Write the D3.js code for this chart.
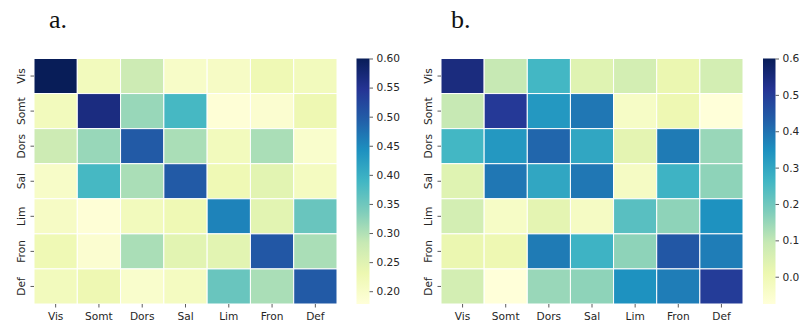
<!DOCTYPE html>
<html>
<head>
<meta charset="utf-8">
<script src="https://cdn.jsdelivr.net/npm/d3@7"></script>
<style>
  body { margin: 0; background: #fff; }
  svg text { font-family: "DejaVu Sans", sans-serif; fill: #262626; }
  .panel-label { font-family: "Liberation Serif", "DejaVu Serif", serif; fill: #111; }
</style>
</head>
<body>
<svg id="chart" width="803" height="325"></svg>
<script>
// network labels, same for rows and columns
var networks = ['Vis', 'Somt', 'Dors', 'Sal', 'Lim', 'Fron', 'Def'];

// panel a. values (row by row)
var valuesA = [
    [0.600, 0.215, 0.275, 0.200, 0.205, 0.225, 0.215],
    [0.215, 0.565, 0.318, 0.385, 0.182, 0.190, 0.228],
    [0.275, 0.318, 0.500, 0.305, 0.215, 0.305, 0.195],
    [0.200, 0.385, 0.305, 0.500, 0.226, 0.246, 0.210],
    [0.205, 0.182, 0.215, 0.226, 0.456, 0.246, 0.355],
    [0.225, 0.190, 0.305, 0.246, 0.246, 0.503, 0.305],
    [0.215, 0.228, 0.195, 0.210, 0.355, 0.305, 0.500]
];

// panel b. values (row by row)
var valuesB = [
    [0.546, 0.094, 0.260, 0.040, 0.067, 0.013, 0.067],
    [0.094, 0.505, 0.330, 0.390, -0.035, 0.006, -0.075],
    [0.260, 0.330, 0.418, 0.300, 0.030, 0.384, 0.148],
    [0.040, 0.390, 0.300, 0.390, -0.030, 0.270, 0.160],
    [0.067, -0.035, 0.030, -0.030, 0.230, 0.160, 0.345],
    [0.013, 0.006, 0.384, 0.270, 0.160, 0.445, 0.380],
    [0.067, -0.075, 0.148, 0.160, 0.345, 0.380, 0.500]
];

var ticksA = [0.20, 0.25, 0.30, 0.35, 0.40, 0.45, 0.50, 0.55, 0.60];
var ticksB = [0.0, 0.1, 0.2, 0.3, 0.4, 0.5, 0.6];

// YlGnBu stops
var ylgnbu = ['#ffffd9', '#edf8b1', '#c7e9b4', '#7fcdbb', '#41b6c4', '#1d91c0', '#225ea8', '#253494', '#081d58'];

var svg = d3.select('#chart');

var drawPanel = function (opts) {
    var g = svg.append('g');

    var x = d3.scaleBand().domain(networks).range([opts.left, opts.right]);
    var y = d3.scaleBand().domain(networks).range([opts.top, opts.bottom]);

    var t = d3.scaleLinear().domain(opts.domain).range([0, 1]).clamp(true);
    var stops = d3.scaleLinear()
        .domain(ylgnbu.map(function (c, i) { return i / (ylgnbu.length - 1); }))
        .range(ylgnbu)
        .interpolate(d3.interpolateRgb);
    var color = function (v) { return stops(t(v)); };

    var cells = [];
    opts.values.forEach(function (row, i) {
        row.forEach(function (v, j) {
            cells.push({ row: networks[i], col: networks[j], value: v });
        });
    });

    g.selectAll('rect.cell')
        .data(cells)
        .enter()
        .append('rect')
        .attr('class', 'cell')
        .attr('x', function (d) { return x(d.col); })
        .attr('y', function (d) { return y(d.row); })
        .attr('width', x.bandwidth())
        .attr('height', y.bandwidth())
        .attr('fill', function (d) { return color(d.value); })
        .attr('stroke', '#fff')
        .attr('stroke-width', 1);

    // x axis
    var xAxis = g.append('g')
        .attr('transform', 'translate(0,' + opts.bottom + ')')
        .call(d3.axisBottom(x).tickSize(3.5).tickPadding(5));
    xAxis.select('.domain').remove();
    xAxis.selectAll('line').attr('stroke', '#333').attr('stroke-width', 0.8);
    xAxis.selectAll('text').style('font-size', '10.6px').attr('fill', '#262626');

    // y axis with rotated labels
    var yAxis = g.append('g')
        .attr('transform', 'translate(' + opts.left + ',0)')
        .call(d3.axisLeft(y).tickSize(3.5).tickPadding(4));
    yAxis.select('.domain').remove();
    yAxis.selectAll('line').attr('stroke', '#333').attr('stroke-width', 0.8);
    yAxis.selectAll('text')
        .style('font-size', '10.6px')
        .attr('fill', '#262626')
        .attr('x', 0)
        .attr('dy', 0)
        .attr('text-anchor', 'middle')
        .attr('transform', 'translate(-9,0) rotate(-90)');

    // colour bar
    var gradId = 'grad-' + opts.name;
    var grad = svg.append('defs').append('linearGradient')
        .attr('id', gradId)
        .attr('x1', 0).attr('y1', 1).attr('x2', 0).attr('y2', 0);
    ylgnbu.forEach(function (c, i) {
        grad.append('stop')
            .attr('offset', (i / (ylgnbu.length - 1) * 100) + '%')
            .attr('stop-color', c);
    });

    var cb = d3.scaleLinear().domain(opts.domain).range([opts.bottom, opts.top]);

    g.append('rect')
        .attr('x', opts.cbLeft)
        .attr('y', opts.top)
        .attr('width', opts.cbWidth)
        .attr('height', opts.bottom - opts.top)
        .attr('fill', 'url(#' + gradId + ')');

    var cbAxis = g.append('g')
        .attr('transform', 'translate(' + (opts.cbLeft + opts.cbWidth) + ',0)')
        .call(d3.axisRight(cb).tickValues(opts.ticks).tickFormat(d3.format(opts.fmt)).tickSize(3.5).tickPadding(3.5));
    cbAxis.select('.domain').remove();
    cbAxis.selectAll('line').attr('stroke', '#333').attr('stroke-width', 0.8);
    cbAxis.selectAll('text').style('font-size', '10.6px').attr('fill', '#262626');

    svg.append('text')
        .attr('class', 'panel-label')
        .attr('x', opts.labelX)
        .attr('y', 27.5)
        .style('font-size', '26px')
        .text(opts.label);
};

drawPanel({
    name: 'a', label: 'a.', labelX: 49,
    values: valuesA, domain: [0.178, 0.60], ticks: ticksA, fmt: '.2f',
    left: 34, right: 337, top: 58.5, bottom: 304,
    cbLeft: 356.5, cbWidth: 13
});

drawPanel({
    name: 'b', label: 'b.', labelX: 451,
    values: valuesB, domain: [-0.075, 0.60], ticks: ticksB, fmt: '.1f',
    left: 441, right: 743, top: 58.5, bottom: 304,
    cbLeft: 763, cbWidth: 12.5
});
</script>
</body>
</html>
